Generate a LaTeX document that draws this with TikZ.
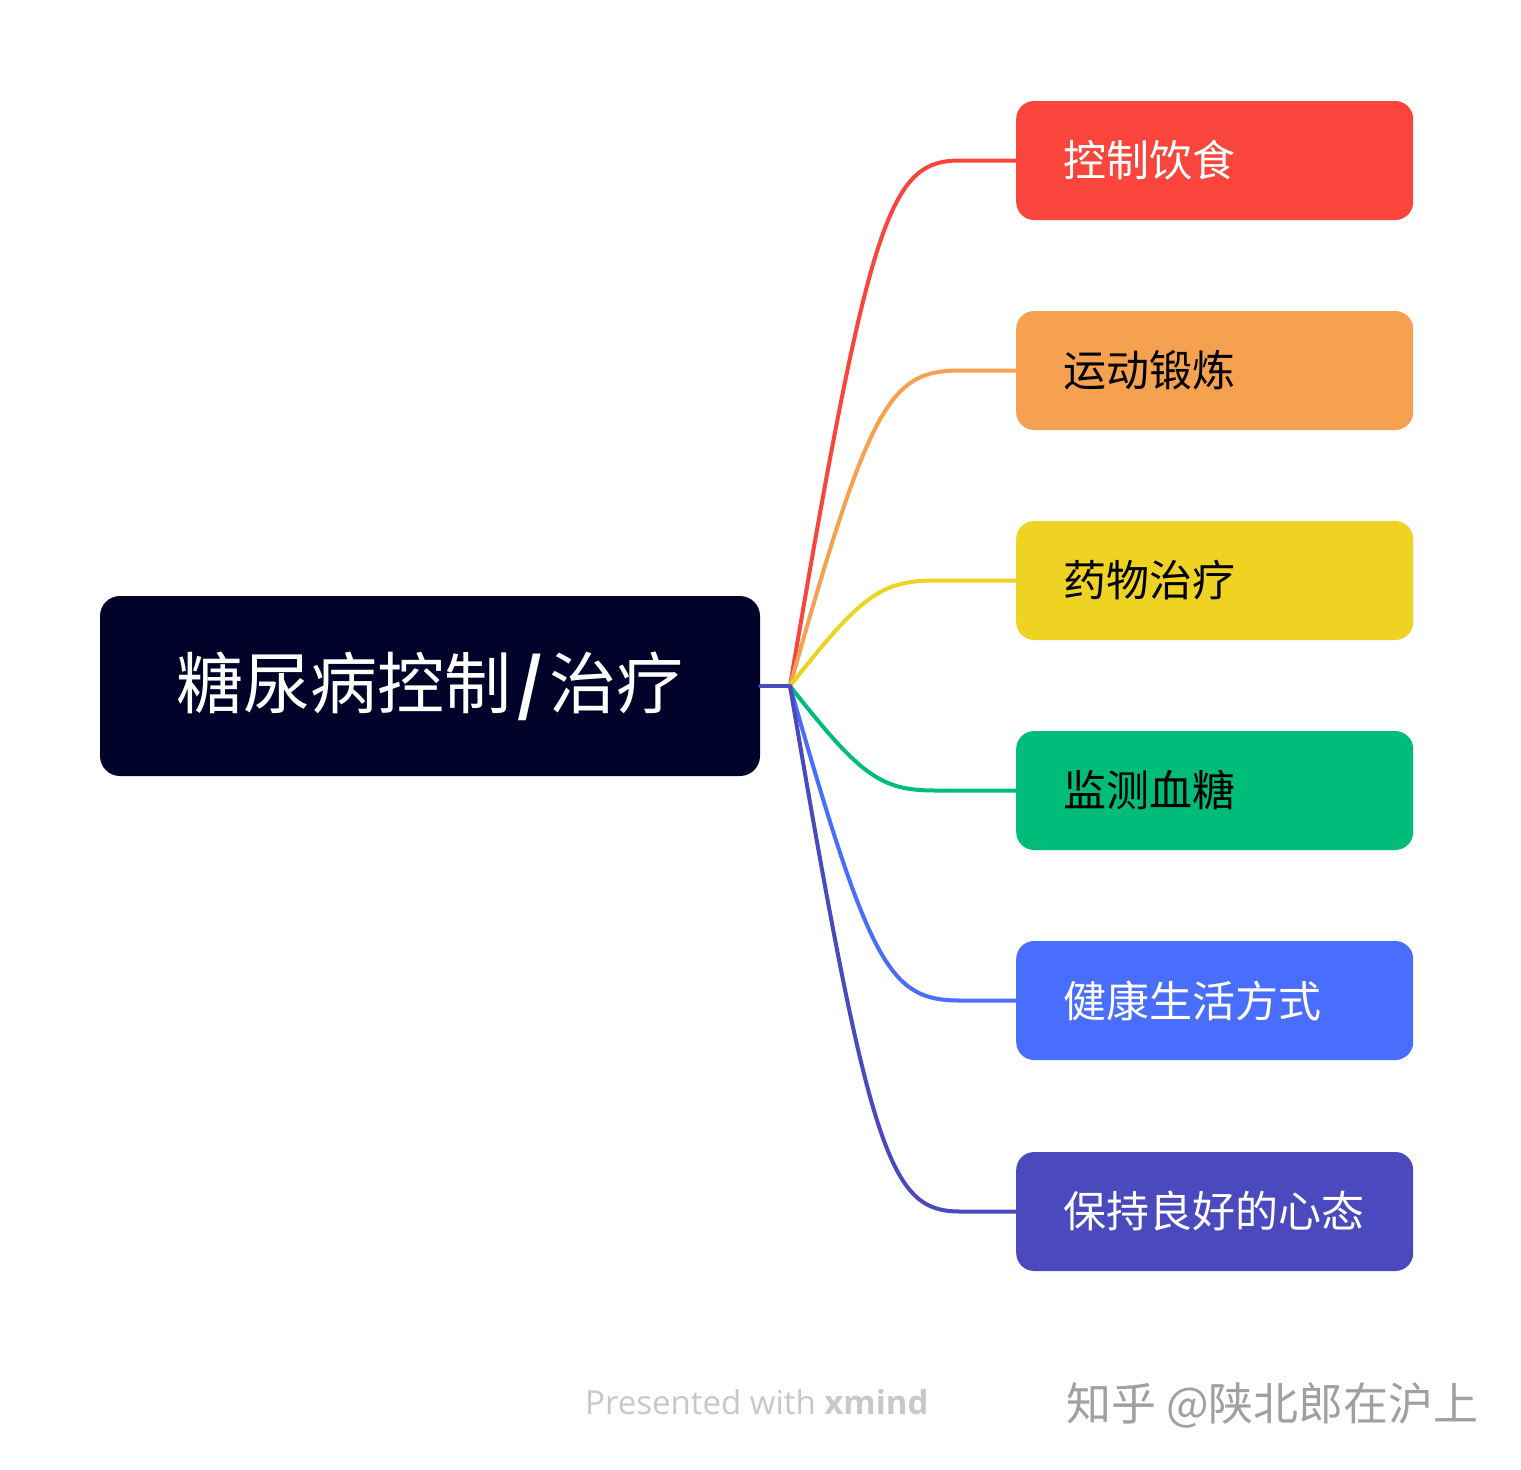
\documentclass[tikz,border=0pt]{standalone}
\usepackage{fontspec}
\setmainfont{Noto Sans CJK SC}
\newfontfamily\cjk{Noto Sans CJK SC}
\newfontfamily\latin{Open Sans}
\definecolor{cRoot}{HTML}{000229}
\definecolor{cRed}{HTML}{F9453B}
\definecolor{cOrange}{HTML}{F5A14F}
\definecolor{cYellow}{HTML}{EFD323}
\definecolor{cGreen}{HTML}{00BC7B}
\definecolor{cBlue}{HTML}{496DFD}
\definecolor{cPurple}{HTML}{4B49BE}
\definecolor{cMark}{HTML}{C8C8C8}
\begin{document}
\begin{tikzpicture}[x=1pt,y=-1pt,
  rootbox/.style={draw=none,fill=cRoot,rounded corners=20pt,minimum width=660pt,minimum height=180pt,inner sep=0pt,text=white,font=\cjk\fontsize{67}{72}\selectfont},
  childbox/.style={draw=none,rounded corners=18pt,minimum width=397pt,minimum height=119pt,inner xsep=47pt,inner ysep=0pt,text width=303pt,align=left,font=\cjk\fontsize{43}{48}\selectfont},
  branch/.style={line width=4pt,line cap=round}]
\useasboundingbox (0,0) rectangle (1521,1470);
\fill[white] (0,0) rectangle (1521,1470);
\node[rootbox] (root) at (430,686) {糖尿病控制\hspace{6pt}\textbf{/}\hspace{6pt}治疗};
\node[childbox,fill=cRed,text=white,anchor=west] (c1) at (1016,160.5) {控制饮食};
\node[childbox,fill=cOrange,text=black,anchor=west] (c2) at (1016,370.5) {运动锻炼};
\node[childbox,fill=cYellow,text=black,anchor=west] (c3) at (1016,580.5) {药物治疗};
\node[childbox,fill=cGreen,text=black,anchor=west] (c4) at (1016,790.5) {监测血糖};
\node[childbox,fill=cBlue,text=white,anchor=west] (c5) at (1016,1000.5) {健康生活方式};
\node[childbox,fill=cPurple,text=white,anchor=west] (c6) at (1016,1211.5) {保持良好的心态};
\coordinate (j) at (790,686);
\draw[branch,cPurple] (root.east) -- (j);
\draw[branch,cRed] (j) .. controls (870,213) and (890,160.5) .. (960,160.5) -- (c1.west);
\draw[branch,cOrange] (j) .. controls (870,402) and (890,370.5) .. (960,370.5) -- (c2.west);
\draw[branch,cYellow] (j) .. controls (860,597) and (880,580.5) .. (935,580.5) -- (c3.west);
\draw[branch,cGreen] (j) .. controls (860,775) and (880,790.5) .. (935,790.5) -- (c4.west);
\draw[branch,cBlue] (j) .. controls (870,968) and (890,1000.5) .. (960,1000.5) -- (c5.west);
\draw[branch,cPurple] (j) .. controls (870,1158) and (890,1211.5) .. (960,1211.5) -- (c6.west);
\node[anchor=west,inner sep=0pt,text=cMark,font=\latin\fontsize{33}{36}\selectfont] (pw) at (585,1402) {Presented with \textbf{xmind}};
\node[anchor=west,inner sep=0pt,text=cMark!80!black,font=\cjk\fontsize{45}{48}\selectfont] (zh) at (1066,1405) {知乎 @陕北郎在沪上};
\end{tikzpicture}
\end{document}
